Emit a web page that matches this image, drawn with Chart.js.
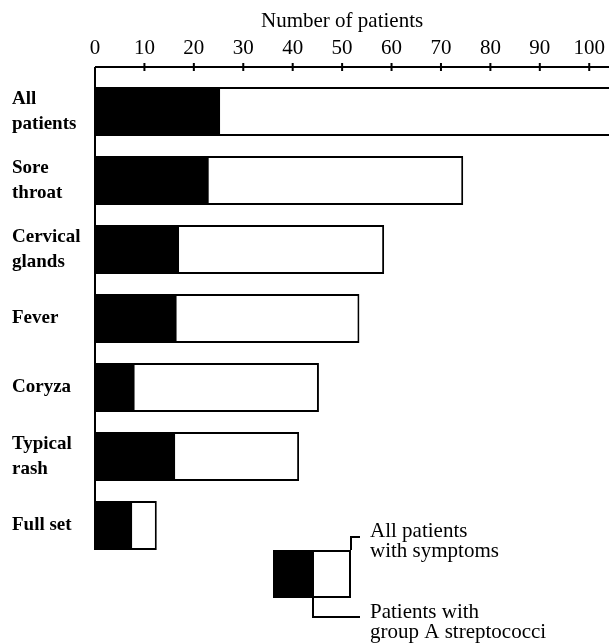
<!DOCTYPE html>
<html>
<head>
<meta charset="utf-8">
<script src="https://cdn.jsdelivr.net/npm/chart.js@4.4.1/dist/chart.umd.min.js"></script>
<style>
    body { margin: 0; background: #fff; }
    #wrap { width: 609px; height: 643px; position: relative; }
</style>
</head>
<body>
<div id="wrap"><canvas id="symptomChart"></canvas></div>
<script>
// symptom groups
const categories = [
    ["All", "patients"],
    ["Sore", "throat"],
    ["Cervical", "glands"],
    ["Fever"],
    ["Coryza"],
    ["Typical", "rash"],
    ["Full set"]
];
const allPatients = [110, 74.5, 58.5, 53.5, 45.3, 41.3, 12.5];  // first bar runs off the axis
const strepPatients = [25.3, 23, 17, 16.5, 8, 16.2, 7.5];
const xTicks = [0, 10, 20, 30, 40, 50, 60, 70, 80, 90, 100];

const serif = "'Liberation Serif', 'DejaVu Serif', serif";

// draws the top axis line, tick marks, the left rule, the axis title and the key
const axisAndKey = {
    id: 'axisAndKey',
    afterDraw(chart) {
        const c = chart.ctx;
        const area = chart.chartArea;
        const xs = chart.scales.x;
        const axisY = area.top - 10;
        const last = chart.getDatasetMeta(1).data[categories.length - 1];

        c.save();
        c.strokeStyle = '#000';
        c.fillStyle = '#000';
        c.lineWidth = 2;

        c.beginPath();
        c.moveTo(area.left, axisY);
        c.lineTo(area.right, axisY);
        c.moveTo(area.left, axisY);
        c.lineTo(area.left, last.y + last.height / 2);
        c.stroke();

        xTicks.forEach(v => {
            if (v === 0) return;
            const px = xs.getPixelForValue(v);
            c.beginPath();
            c.moveTo(px, axisY - 4);
            c.lineTo(px, axisY + 4);
            c.stroke();
        });

        c.font = "21px " + serif;
        c.textAlign = 'center';
        c.textBaseline = 'middle';
        c.fillText("Number of patients", xs.getPixelForValue(50), 21);

        // key
        c.fillRect(273, 550, 40, 48);
        c.strokeRect(313, 551, 37, 46);
        c.beginPath();
        c.moveTo(351, 550);
        c.lineTo(351, 537);
        c.lineTo(360, 537);
        c.moveTo(313, 598);
        c.lineTo(313, 617);
        c.lineTo(360, 617);
        c.stroke();

        c.font = "21px " + serif;
        c.textAlign = 'left';
        c.textBaseline = 'alphabetic';
        c.fillText("All patients", 370, 537);
        c.fillText("with symptoms", 370, 557);
        c.fillText("Patients with", 370, 618);
        c.fillText("group A streptococci", 370, 638);
        c.restore();
    }
};

const ctx = document.getElementById('symptomChart').getContext('2d');

new Chart(ctx, {
    type: 'bar',
    data: {
        labels: categories,
        datasets: [{
            label: 'Patients with group A streptococci',
            data: strepPatients,
            backgroundColor: '#000',
            borderWidth: 0,
            grouped: false,
            barPercentage: 0.71,
            categoryPercentage: 1
        }, {
            label: 'All patients with symptoms',
            data: allPatients,
            backgroundColor: '#fff',
            borderColor: '#000',
            borderWidth: 2,
            grouped: false,
            barPercentage: 0.71,
            categoryPercentage: 1
        }]
    },
    options: {
        indexAxis: 'y',
        responsive: true,
        maintainAspectRatio: false,
        animation: false,
        layout: { padding: { left: 12, right: 0, top: 0, bottom: 83 } },
        plugins: {
            legend: { display: false },
            tooltip: { enabled: false }
        },
        scales: {
            x: {
                position: 'top',
                min: 0,
                max: 104,
                afterFit: s => { s.height = 77; s.paddingLeft = 0; s.paddingRight = 0; },
                afterBuildTicks: s => { s.ticks = xTicks.map(v => ({ value: v })); },
                grid: { display: false, drawTicks: false },
                border: { display: false },
                ticks: {
                    color: '#000',
                    padding: 16,
                    font: { family: serif, size: 21 }
                }
            },
            y: {
                afterFit: s => { s.width = 83; },
                grid: { display: false, drawTicks: false },
                border: { display: false },
                ticks: {
                    color: '#000',
                    crossAlign: 'far',
                    font: { family: serif, size: 19, weight: 'bold', lineHeight: 1.35 }
                }
            }
        }
    },
    plugins: [axisAndKey]
});
</script>
</body>
</html>
